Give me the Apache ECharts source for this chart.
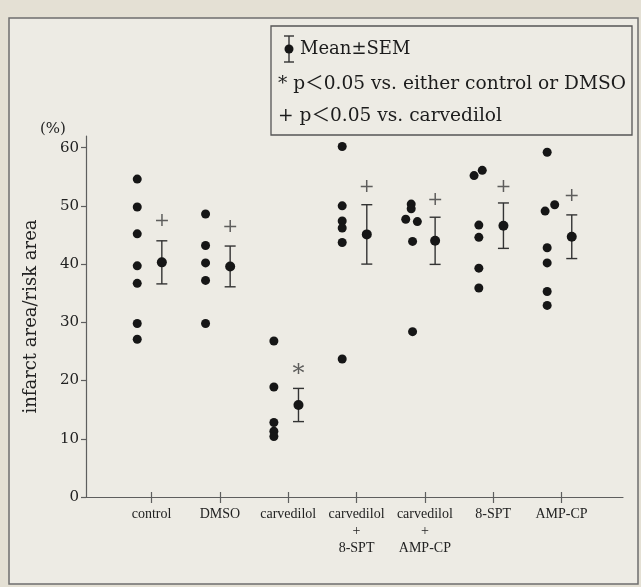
<!DOCTYPE html>
<html>
<head>
<meta charset="utf-8">
<title>infarct area / risk area</title>
<script src="https://cdn.jsdelivr.net/npm/echarts@6.0.0/dist/echarts.min.js"></script>
<style>
  html, body { margin: 0; padding: 0; background: #e4e0d4; }
  #chart { width: 641px; height: 587px; }
</style>
</head>
<body>
<div id="chart"></div>
<script>
// 群名（横轴）
var categories = ['control', 'DMSO', 'carvedilol', 'carvedilol\n+\n8-SPT', 'carvedilol\n+\nAMP-CP', '8-SPT', 'AMP-CP'];

// 各个体的数值 (%)
var controlVals   = [54.6, 49.8, 45.2, 39.7, 36.7, 29.8, 27.1];
var dmsoVals      = [48.6, 43.2, 40.2, 37.2, 29.8];
var carvVals      = [26.8, 18.9, 12.8, 11.3, 10.4];
var carvSptVals   = [60.2, 50.0, 47.4, 46.2, 43.7, 23.7];
var carvAmpVals   = [50.3, 49.5, 47.7, 47.3, 43.9, 28.4];
var sptVals       = [56.1, 55.2, 46.7, 44.6, 39.3, 35.9];
var ampVals       = [59.2, 50.2, 49.1, 42.8, 40.2, 35.3, 32.9];

// 重叠点的横向错开量（类目单位）
var controlJit = [0, 0, 0, 0, 0, 0, 0];
var dmsoJit    = [0, 0, 0, 0, 0];
var carvJit    = [0, 0, 0, 0, 0];
var carvSptJit = [0, 0, 0, 0, 0, 0];
var carvAmpJit = [0.01, 0.01, -0.07, 0.1, 0.03, 0.03];
var sptJit     = [0.05, -0.07, 0, 0, 0, 0];
var ampJit     = [0, 0.11, -0.03, 0, 0, 0, 0];

// 平均值 ± SEM
var means = [40.3, 39.6, 15.8, 45.1, 44.0, 46.6, 44.7];
var sems  = [3.7, 3.5, 2.85, 5.1, 4.05, 3.9, 3.75];

// 显著性标记的位置 (%)
var plusMarks = [47.4, 46.3, null, 53.2, 51.0, 53.3, 51.6];
var starMarks = [null, null, 21.9, null, null, null, null];

var yTicks = [0, 10, 20, 30, 40, 50, 60];
var xTicks = [1, 2, 3, 4, 5, 6, 7];

var groups = [controlVals, dmsoVals, carvVals, carvSptVals, carvAmpVals, sptVals, ampVals];
var jitters = [controlJit, dmsoJit, carvJit, carvSptJit, carvAmpJit, sptJit, ampJit];

var DOT_OFF = -0.21;
var MEAN_OFF = 0.15;

var SERIF = "'DejaVu Serif', 'Noto Sans CJK JP', serif";
var LABEL_FONT = "'Liberation Serif', serif";
var INK = '#161616';
var LINE = '#5e5e5e';

var pointData = [];
groups.forEach(function (vals, i) {
    vals.forEach(function (v, k) {
        pointData.push([i + 1 + DOT_OFF + jitters[i][k], v]);
    });
});

var meanData = means.map(function (m, i) { return [i + 1 + MEAN_OFF, m, sems[i]]; });

var plusData = [];
plusMarks.forEach(function (v, i) { if (v != null) plusData.push([i + 1 + MEAN_OFF, v]); });
var starData = [];
starMarks.forEach(function (v, i) { if (v != null) starData.push([i + 1 + MEAN_OFF, v]); });

var chart = echarts.init(document.getElementById('chart'));

var option = {
    backgroundColor: '#e4e0d4',
    animation: false,
    grid: { left: 86, right: 18, top: 136, bottom: 90 },
    xAxis: [{
        type: 'value',
        position: 'bottom',
        min: 0.04,
        max: 7.9,
        axisLine: { lineStyle: { color: LINE, width: 1.2 } },
        axisTick: { customValues: xTicks, length: 6, lineStyle: { color: LINE, width: 1.2 } },
        axisLabel: {
            customValues: xTicks,
            formatter: function (v) { return categories[Math.round(v) - 1] || ''; },
            fontFamily: LABEL_FONT, fontSize: 14, color: '#222',
            lineHeight: 17, margin: 9
        },
        splitLine: { show: false }
    }, {
        // 轴上方的短刻度
        type: 'value',
        position: 'bottom',
        min: 0.04,
        max: 7.9,
        axisLine: { show: false },
        axisTick: { customValues: xTicks, inside: true, length: 5, lineStyle: { color: LINE, width: 1.2 } },
        axisLabel: { show: false },
        splitLine: { show: false }
    }],
    yAxis: {
        type: 'value',
        min: 0,
        max: 62,
        name: 'infarct area/risk area',
        nameLocation: 'middle',
        nameRotate: 90,
        nameGap: 46,
        nameTextStyle: { fontFamily: SERIF, fontSize: 18, color: '#222' },
        axisLine: { lineStyle: { color: LINE, width: 1.2 } },
        axisTick: { customValues: yTicks, length: 5, lineStyle: { color: LINE, width: 1.2 } },
        axisLabel: { customValues: yTicks, fontFamily: SERIF, fontSize: 15, color: '#222', margin: 7 },
        splitLine: { show: false }
    },
    series: [{
        name: 'individual',
        type: 'scatter',
        data: pointData,
        symbolSize: 9,
        itemStyle: { color: INK, opacity: 1 }
    }, {
        name: 'sem',
        type: 'custom',
        data: meanData,
        renderItem: function (params, api) {
            var x = api.value(0), m = api.value(1), s = api.value(2);
            var top = api.coord([x, m + s]);
            var bot = api.coord([x, m - s]);
            var w = 5.5;
            var st = { stroke: '#333', lineWidth: 1.4 };
            return {
                type: 'group',
                children: [
                    { type: 'line', shape: { x1: top[0], y1: top[1], x2: bot[0], y2: bot[1] }, style: st },
                    { type: 'line', shape: { x1: top[0] - w, y1: top[1], x2: top[0] + w, y2: top[1] }, style: st },
                    { type: 'line', shape: { x1: bot[0] - w, y1: bot[1], x2: bot[0] + w, y2: bot[1] }, style: st }
                ]
            };
        }
    }, {
        name: 'mean',
        type: 'scatter',
        data: meanData,
        symbolSize: 10,
        itemStyle: { color: INK, opacity: 1 },
        z: 3
    }, {
        name: 'plus',
        type: 'scatter',
        data: plusData,
        symbolSize: 1,
        itemStyle: { color: 'rgba(0,0,0,0)' },
        label: {
            show: true, position: 'inside', formatter: '+',
            fontFamily: SERIF, fontSize: 19, color: '#3a3a3a'
        }
    }, {
        name: 'star',
        type: 'scatter',
        data: starData,
        symbolSize: 1,
        itemStyle: { color: 'rgba(0,0,0,0)' },
        label: {
            show: true, position: 'inside', formatter: '*', offset: [0, 5],
            fontFamily: SERIF, fontSize: 24, color: '#3a3a3a'
        }
    }],
    graphic: [
        // 外框
        { type: 'rect', z: -10, shape: { x: 9, y: 18, width: 629, height: 566 },
          style: { fill: '#edebe4', stroke: '#6e6e6e', lineWidth: 1.5 } },
        { type: 'text', left: 40, top: 122, style: { text: '(%)', fontFamily: SERIF, fontSize: 15, fill: '#222' } },
        // 图例框
        { type: 'rect', shape: { x: 271, y: 26, width: 361, height: 109 },
          style: { fill: 'rgba(0,0,0,0)', stroke: '#555', lineWidth: 1.3 } },
        { type: 'line', shape: { x1: 289, y1: 36, x2: 289, y2: 62 }, style: { stroke: '#333', lineWidth: 1.4 } },
        { type: 'line', shape: { x1: 284, y1: 36, x2: 294, y2: 36 }, style: { stroke: '#333', lineWidth: 1.4 } },
        { type: 'line', shape: { x1: 284, y1: 62, x2: 294, y2: 62 }, style: { stroke: '#333', lineWidth: 1.4 } },
        { type: 'circle', shape: { cx: 289, cy: 49, r: 4.5 }, style: { fill: INK } },
        { type: 'text', x: 300, y: 49, style: { text: 'Mean±SEM', fontFamily: SERIF, fontSize: 18, fill: '#1c1c1c', verticalAlign: 'middle' } },
        { type: 'text', x: 278, y: 84, style: { text: '* p＜0.05 vs. either control or DMSO', fontFamily: SERIF, fontSize: 18.6, fill: '#1c1c1c', verticalAlign: 'middle' } },
        { type: 'text', x: 278, y: 116, style: { text: '+ p＜0.05 vs. carvedilol', fontFamily: SERIF, fontSize: 18.6, fill: '#1c1c1c', verticalAlign: 'middle' } }
    ]
};

chart.setOption(option);
</script>
</body>
</html>
